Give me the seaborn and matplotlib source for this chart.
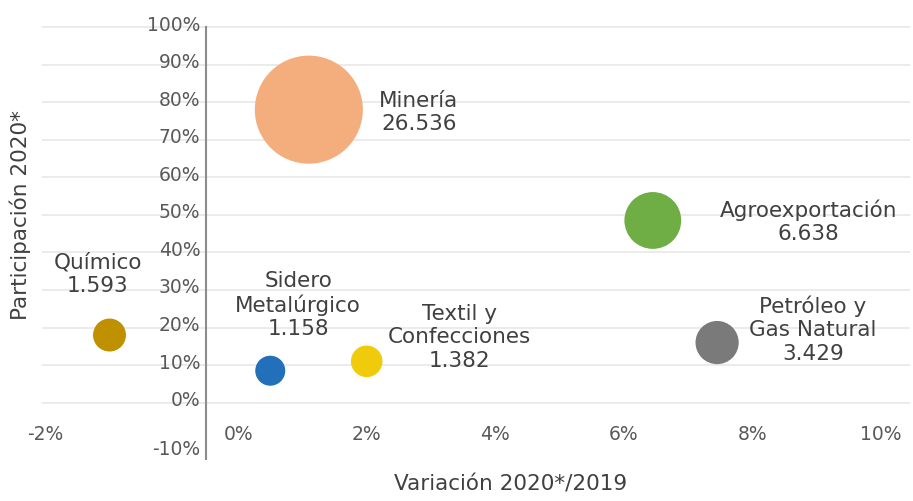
import seaborn as sns
import matplotlib.pyplot as plt
import matplotlib.transforms as mtransforms
import pandas as pd

# data
sectores = ["Minería", "Agroexportación", "Químico", "Sidero Metalúrgico",
            "Textil y Confecciones", "Petróleo y Gas Natural"]
etiquetas = ["Minería", "Agroexportación", "Químico", "Sidero\nMetalúrgico",
             "Textil y\nConfecciones", "Petróleo y\nGas Natural"]
variacion = [1.1, 6.45, -2.0, 0.5, 2.0, 7.45]        # % 2020*/2019
participacion = [78.0, 48.5, 18.0, 8.5, 11.0, 16.0]  # % participación 2020*
valor = [26.536, 6.638, 1.593, 1.158, 1.382, 3.429]   # tamaño de burbuja
colores = ["#F4AE7E", "#6FAE45", "#BF9000", "#2170B9", "#F0CB0C", "#7A7A7A"]

yticks = list(range(-10, 101, 10))
xticks = [-2, 0, 2, 4, 6, 8, 10]

# label offsets in pixels (dx, dy) from bubble centre
offsets = {
    "Minería": (110, -2),
    "Agroexportación": (156, 0),
    "Químico": (-12, 62),
    "Sidero Metalúrgico": (28, 67),
    "Textil y Confecciones": (93, 25),
    "Petróleo y Gas Natural": (96, 14),
}

df = pd.DataFrame({"sector": sectores, "x": variacion, "y": participacion,
                   "valor": valor})

sns.set_style("white")
plt.rcParams["font.family"] = ["DejaVu Sans"]

fig = plt.figure(figsize=(9.13, 5.02), dpi=100)
ax = fig.add_axes([42 / 913, 1 - 460 / 502, 868 / 913, 439.5 / 502])

sns.scatterplot(data=df, x="x", y="y", hue="sector", size="valor",
                palette=dict(zip(sectores, colores)), sizes=(467, 6055),
                legend=False, edgecolor="none", linewidth=0, ax=ax, zorder=3)

ax.set_xlim(-3.05, 10.45)
ax.set_ylim(-15, 102)
ax.set_xlabel("")
ax.set_ylabel("")

# spines first (moving a spine rebuilds the ticks)
for s in ["top", "right"]:
    ax.spines[s].set_visible(False)
ax.spines["bottom"].set_position(("data", -4.5))
ax.spines["bottom"].set_visible(False)
ax.spines["left"].set_position(("data", -0.5))
ax.spines["left"].set_bounds(-15, 100)
ax.spines["left"].set_color("#8c8c8c")
ax.spines["left"].set_linewidth(1.5)

ax.set_yticks(yticks)
ax.set_yticklabels([f"{t}%" for t in yticks])
ax.set_xticks(xticks)
ax.set_xticklabels([f"{t}%" for t in xticks])
ax.tick_params(length=0, labelsize=13.5, labelcolor="#595959")
ax.tick_params(axis="y", pad=4)
ax.tick_params(axis="x", pad=3)

ax.grid(axis="y", color="#e8e8e8", linewidth=1.2, zorder=0)
ax.yaxis.get_gridlines()[0].set_visible(False)

# y labels sit a little above their gridline (-10% lower), -2% label further left
up = mtransforms.ScaledTranslation(0, 0.05, fig.dpi_scale_trans)
for lbl in ax.get_yticklabels()[1:]:
    lbl.set_transform(lbl.get_transform() + up)
lbl = ax.get_yticklabels()[0]
lbl.set_transform(lbl.get_transform() + mtransforms.ScaledTranslation(0, -0.06, fig.dpi_scale_trans))
lbl = ax.get_xticklabels()[0]
lbl.set_transform(lbl.get_transform() + mtransforms.ScaledTranslation(-0.64, 0, fig.dpi_scale_trans))

for sec, lab, xv, yv, v in zip(sectores, etiquetas, variacion, participacion, valor):
    dx, dy = offsets[sec]
    ax.annotate(f"{lab}\n{v:.3f}", (xv, yv), xytext=(dx * 0.72, dy * 0.72),
                textcoords="offset points", ha="center", va="center",
                multialignment="center", fontsize=15.5, color="#404040",
                linespacing=1.2, zorder=4)

fig.text(20 / 913, 1 - 215 / 502, "Participación 2020*", rotation=90,
         ha="center", va="center", fontsize=15.5, color="#404040")
fig.text(511 / 913, 1 - 485 / 502, "Variación 2020*/2019",
         ha="center", va="center", fontsize=15.5, color="#404040")

fig.savefig("out.png", dpi=100)
